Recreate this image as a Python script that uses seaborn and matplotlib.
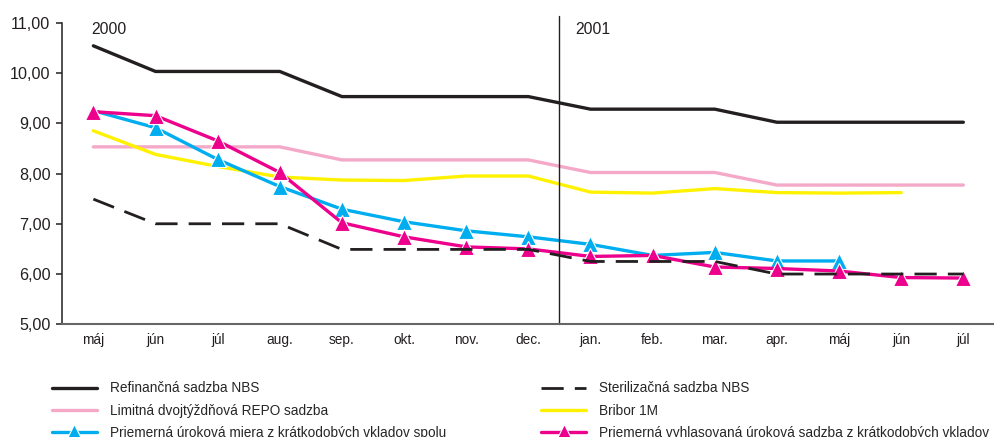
import numpy as np
import matplotlib
matplotlib.use("Agg")
import matplotlib.pyplot as plt
import seaborn as sns

sns.set_style("white")
plt.rcParams["font.family"] = ["Liberation Sans", "DejaVu Sans"]

# data
months = ["máj", "jún", "júl", "aug.", "sep.", "okt.", "nov.", "dec.",
          "jan.", "feb.", "mar.", "apr.", "máj", "jún", "júl"]
refin = [10.54, 10.03, 10.03, 10.03, 9.53, 9.53, 9.53, 9.53,
         9.28, 9.28, 9.28, 9.02, 9.02, 9.02, 9.02]
steril = [7.49, 7.0, 7.0, 7.0, 6.49, 6.49, 6.49, 6.49,
          6.25, 6.25, 6.25, 6.0, 6.0, 6.0, 6.0]
repo = [8.53, 8.53, 8.53, 8.53, 8.27, 8.27, 8.27, 8.27,
        8.02, 8.02, 8.02, 7.77, 7.77, 7.77, 7.77]
bribor = [8.85, 8.38, 8.14, 7.93, 7.87, 7.86, 7.95, 7.95,
          7.63, 7.61, 7.70, 7.62, 7.61, 7.62, np.nan]
spolu = [9.25, 8.91, 8.28, 7.74, 7.29, 7.04, 6.86, 6.74,
         6.59, 6.37, 6.43, 6.26, 6.26, np.nan, np.nan]
vyhlas = [9.23, 9.15, 8.65, 8.02, 7.02, 6.74, 6.54, 6.50,
          6.35, 6.37, 6.14, 6.11, 6.06, 5.93, 5.92]

x = np.arange(len(months))

fig = plt.figure(figsize=(9.95, 4.37), dpi=100)
W, H = 995, 437
ax = fig.add_axes([62.3 / W, 1 - 324.3 / H, (994.4 - 62.3) / W, (324.3 - 22.7) / H])

black = "#231f20"
sns.lineplot(x=x, y=refin, color=black, lw=2.4, ax=ax, label="Refinančná sadzba NBS")
sns.lineplot(x=x, y=repo, color="#f5a9c9", lw=2.4, ax=ax, label="Limitná dvojtýždňová REPO sadzba")
sns.lineplot(x=x, y=bribor, color="#fff200", lw=2.4, ax=ax, label="Bribor 1M")
sns.lineplot(x=x, y=spolu, color="#00aeef", lw=2.4, marker="^", markersize=11,
             markeredgewidth=0.8, ax=ax,
             label="Priemerná úroková miera z krátkodobých vkladov spolu")
sns.lineplot(x=x, y=vyhlas, color="#ec008c", lw=2.4, marker="^", markersize=11,
             markeredgewidth=0.8, ax=ax,
             label="Priemerná vyhlasovaná úroková sadzba z krátkodobých vkladov")
sns.lineplot(x=x, y=steril, color=black, lw=2.0, ax=ax, label="Sterilizačná sadzba NBS")
ax.lines[-1].set_linestyle((0, (8, 4)))

if ax.get_legend() is not None:
    ax.get_legend().remove()

ax.set_xlim(-0.5, len(months) - 0.5)
ax.set_ylim(5, 11)
ax.set_yticks(np.arange(5, 12, 1))
ax.set_yticklabels([f"{v},00" for v in range(5, 12)], fontsize=11.6, color=black)
ax.set_xticks(x)
ax.set_xticklabels(months, fontsize=9.8, color=black)
ax.set_xticks(np.arange(-0.5, len(months), 1), minor=True)
ax.tick_params(axis="x", which="major", length=0, pad=6)
ax.tick_params(axis="x", which="minor", length=4, width=1.2, color="#555555", direction="out")
ax.tick_params(axis="y", length=4.5, width=1.1, color=black, pad=4, left=True)

for s in ["top", "right"]:
    ax.spines[s].set_visible(False)
ax.spines["left"].set_color(black)
ax.spines["left"].set_linewidth(1.1)
ax.spines["bottom"].set_color("#666666")
ax.spines["bottom"].set_linewidth(1.5)
ax.grid(False)

# year separator
ax.axvline(7.5, ymin=0, ymax=(324.3 - 16) / (324.3 - 22.7), color=black, lw=1.0, clip_on=False)
ax.text(-0.03, 10.87, "2000", fontsize=11.3, color=black, ha="left", va="center")
ax.text(7.75, 10.87, "2001", fontsize=11.3, color=black, ha="left", va="center")

handles, labels = ax.get_legend_handles_labels()
order = [0, 1, 3, 5, 2, 4]
fig.legend([handles[i] for i in order], [labels[i] for i in order],
           loc="upper left", bbox_to_anchor=(52 / W, 1 - 381.5 / H), ncol=2,
           frameon=False, fontsize=9.8, handlelength=3.3, handletextpad=0.95,
           columnspacing=7.0, labelspacing=0.6, borderpad=0, borderaxespad=0,
           numpoints=1)

fig.savefig("out.png", dpi=100)
